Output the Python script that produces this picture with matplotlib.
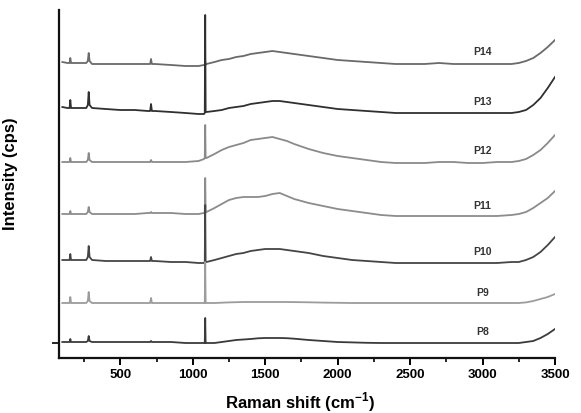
"""
Espectros Raman P8-P14, apilados.
"""
import matplotlib
matplotlib.use("Agg")
import matplotlib.pyplot as plt
from matplotlib.ticker import MultipleLocator, NullFormatter

plt.rcParams["font.family"] = ["Liberation Sans", "DejaVu Sans"]
plt.rcParams["mathtext.fontset"] = "custom"
plt.rcParams["mathtext.rm"] = "Liberation Sans"
plt.rcParams["mathtext.bf"] = "Liberation Sans:bold"

# desplazamiento Raman (cm-1), grilla comun
shift = [100, 135, 150, 155, 160, 175, 220, 265, 276, 282, 288, 305, 400, 500, 600,
         690, 706, 712, 718, 740, 850, 950, 1040, 1078, 1083, 1086, 1089, 1095, 1150, 1200,
         1250, 1300, 1350, 1400, 1450, 1500, 1550, 1600, 1650, 1700, 1800, 1900, 2000, 2100, 2200,
         2300, 2400, 2500, 2600, 2700, 2800, 2900, 3000, 3100, 3200, 3250, 3300, 3350, 3400, 3450,
         3500]

# intensidades (cps, desplazadas)
p14 = [296, 295, 295, 300, 295, 295, 295, 295, 297, 305, 297, 294, 294, 294, 294,
       294, 294, 299, 294, 294, 293, 292, 292, 293, 293, 297, 293, 294, 296, 298,
       299, 301, 302, 304, 305, 306, 307, 306, 305, 304, 302, 300, 298, 297, 296,
       295, 294, 294, 294, 295, 294, 294, 294, 294, 294, 295, 297, 300, 305, 311,
       318]
p13 = [251, 250, 250, 258, 250, 250, 250, 250, 253, 266, 253, 250, 249, 248, 248,
       247, 247, 254, 247, 247, 246, 245, 244, 244, 245, 343, 246, 246, 247, 248,
       250, 251, 252, 254, 255, 256, 257, 257, 256, 255, 253, 251, 249, 248, 247,
       246, 245, 245, 245, 245, 245, 245, 245, 245, 245, 246, 248, 253, 260, 270,
       281]
p12 = [196, 196, 196, 200, 196, 196, 196, 196, 198, 205, 198, 196, 196, 196, 196,
       196, 196, 198, 196, 196, 196, 196, 197, 199, 200, 233, 200, 200, 204, 208,
       211, 213, 215, 218, 219, 220, 221, 219, 217, 214, 209, 205, 202, 200, 198,
       196, 195, 195, 195, 196, 196, 195, 195, 196, 196, 197, 199, 203, 208, 215,
       223]
p11 = [144, 144, 144, 147, 144, 144, 144, 144, 146, 151, 146, 144, 144, 144, 144,
       145, 145, 146, 145, 145, 145, 144, 144, 145, 146, 180, 146, 146, 150, 154,
       158, 160, 161, 161, 161, 162, 164, 165, 162, 159, 155, 152, 149, 147, 145,
       143, 142, 142, 142, 142, 142, 142, 142, 142, 143, 144, 146, 150, 155, 160,
       167]
p10 = [98, 98, 98, 104, 98, 98, 98, 98, 101, 112, 101, 98, 97, 97, 97,
       97, 97, 101, 97, 97, 96, 96, 95, 95, 96, 153, 96, 96, 98, 100,
       102, 104, 105, 107, 108, 109, 109, 109, 108, 107, 105, 102, 100, 98, 97,
       96, 95, 95, 95, 95, 95, 95, 95, 95, 96, 96, 98, 101, 106, 113,
       121]
p9 = [55, 55, 55, 61, 55, 55, 55, 55, 57, 66, 57, 55, 55, 55, 55,
      55, 55, 60, 55, 55, 55, 55, 55, 55, 55, 96, 55, 55, 55, 55.3,
      55.6, 55.8, 56, 56, 56, 56, 56, 56, 56, 55.9, 55.7, 55.4, 55.2, 55, 55,
      55, 55, 55, 55, 55, 55, 55, 55, 55, 55, 55, 55.6, 57, 59, 61,
      64]
p8 = [16, 16, 16, 19, 16, 16, 16, 16, 17, 22, 17, 16, 16, 16, 16,
      16, 16, 17, 16, 16, 16, 15, 15, 15, 15, 40, 15, 15, 15, 16,
      17, 18, 18.5, 19, 19.7, 20, 20, 20, 19.8, 19.3, 18, 17, 16, 15.6, 15.2,
      15, 15, 15, 15, 15, 15, 15, 15, 15, 15, 15, 16, 17, 20, 24,
      29]

muestras = ["P14", "P13", "P12", "P11", "P10", "P9", "P8"]
series = [p14, p13, p12, p11, p10, p9, p8]
colores = ["#6a6a6a", "#303030", "#8a8a8a", "#8c8c8c", "#454545", "#9c9c9c", "#3a3a3a"]
# altura de la etiqueta sobre la linea base
etiqueta_dy = [12, 11, 12, 10, 11, 10, 11]

fig = plt.figure(figsize=(5.81, 4.13), dpi=100)
ax = fig.add_axes([59 / 581, 1 - 358 / 413, (555 - 59) / 581, (358 - 10) / 413])

for nombre, ys, c, dy in zip(muestras, series, colores, etiqueta_dy):
    ax.plot(shift, ys, color=c, lw=1.3)
    ax.text(3000, ys[52] + dy, nombre, ha="center", va="center",
            fontsize=7.5, fontweight="bold", color="#333333")

ax.set_xlim(77, 3500)
ax.set_ylim(0, 348)

for lado in ["top", "right"]:
    ax.spines[lado].set_visible(False)
for lado in ["left", "bottom"]:
    ax.spines[lado].set_linewidth(1.6)
    ax.spines[lado].set_color("#111111")

ax.xaxis.set_major_locator(MultipleLocator(500))
ax.xaxis.set_minor_locator(MultipleLocator(250))
ax.xaxis.set_minor_formatter(NullFormatter())
ax.set_xticks([500, 1000, 1500, 2000, 2500, 3000, 3500])
ax.tick_params(axis="x", which="major", direction="out", length=5, width=1.4,
               labelsize=9.5, pad=3)
ax.tick_params(axis="x", which="minor", direction="out", length=3, width=1.2)
ax.set_yticks([15])
ax.set_yticklabels([])
ax.tick_params(axis="y", direction="out", length=5, width=1.2)
for t in ax.get_xticklabels():
    t.set_fontweight("bold")

ax.set_xlabel(r"Raman shift (cm$^{\mathbf{-1}}$)", fontsize=12, fontweight="bold")
ax.set_ylabel("Intensity (cps)", fontsize=12, fontweight="bold")
ax.xaxis.set_label_coords(0.486, -0.092)
ax.yaxis.set_label_coords(-0.083, 0.53)

plt.savefig("out.png", dpi=100)
